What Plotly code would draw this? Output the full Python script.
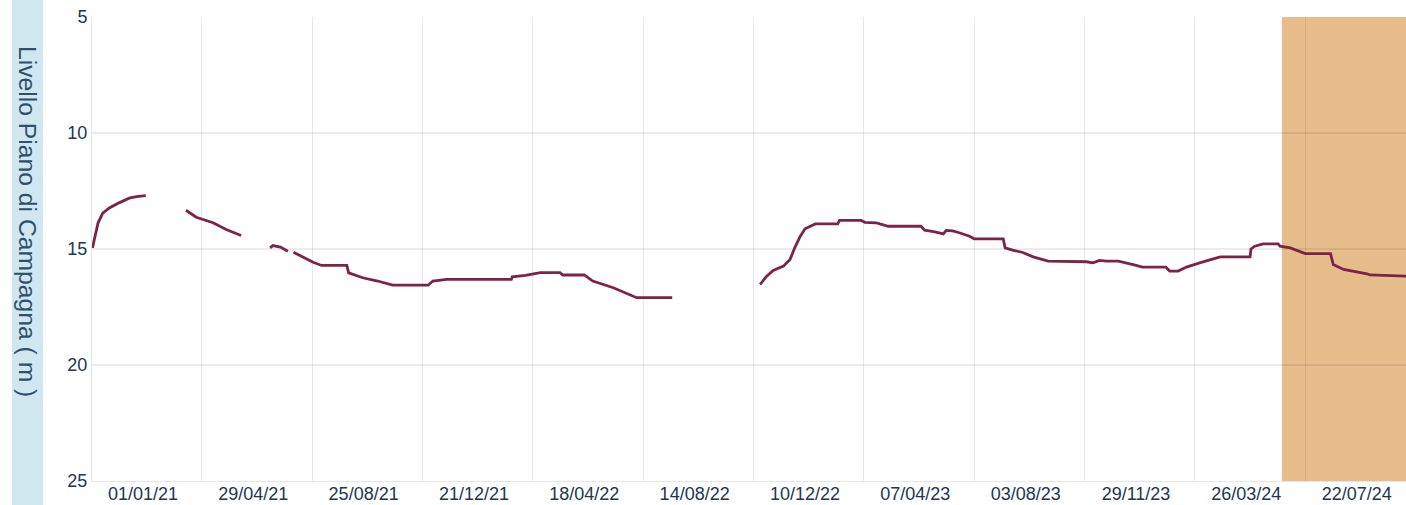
import plotly.graph_objects as go

# ---- data ----
dates = [
    "2020-11-08", "2020-11-11", "2020-11-14", "2020-11-19", "2020-11-26", "2020-12-07",
    "2020-12-18", "2020-12-27", "2021-01-04", None,
    "2021-02-16", "2021-02-27", "2021-03-17", "2021-03-31", "2021-04-16", None,
    "2021-05-17", "2021-05-20", "2021-05-28", "2021-06-05", None,
    "2021-06-11", "2021-07-02", "2021-07-11", "2021-08-07", "2021-08-09", "2021-08-24",
    "2021-09-09", "2021-09-25", "2021-11-02", "2021-11-07", "2021-11-22", "2022-01-30",
    "2022-01-31", "2022-02-14", "2022-03-02", "2022-03-23", "2022-03-26", "2022-04-18",
    "2022-04-27", "2022-05-19", "2022-06-13", "2022-07-21", None,
    "2022-10-23", "2022-10-30", "2022-11-06", "2022-11-17", "2022-11-24", "2022-11-29",
    "2022-12-05", "2022-12-10", "2022-12-21", "2023-01-14", "2023-01-16", "2023-02-08",
    "2023-02-12", "2023-02-24", "2023-02-28", "2023-03-09", "2023-04-13", "2023-04-17",
    "2023-04-28", "2023-05-07", "2023-05-10", "2023-05-17", "2023-05-24", "2023-06-04",
    "2023-06-09", "2023-07-10", "2023-07-12", "2023-07-20", "2023-07-31", "2023-08-11",
    "2023-08-27", "2023-09-16", "2023-10-07", "2023-10-14", "2023-10-21", "2023-10-28",
    "2023-11-10", "2023-11-26", "2023-12-06", "2023-12-31", "2024-01-04", "2024-01-13",
    "2024-01-22", "2024-02-05", "2024-02-19", "2024-02-27", "2024-03-30", "2024-03-31",
    "2024-04-04", "2024-04-13", "2024-04-29", "2024-05-01", "2024-05-12", "2024-05-22",
    "2024-05-28", "2024-06-24", "2024-06-27", "2024-07-08", "2024-07-22", "2024-08-02",
    "2024-08-05", "2024-09-13",
]
levels = [
    14.95, 14.40, 13.87, 13.45, 13.23, 13.00,
    12.80, 12.73, 12.70, None,
    13.33, 13.63, 13.87, 14.16, 14.42, None,
    14.95, 14.85, 14.92, 15.10, None,
    15.14, 15.57, 15.71, 15.71, 16.03, 16.24,
    16.38, 16.56, 16.56, 16.38, 16.31, 16.31,
    16.20, 16.14, 16.02, 16.02, 16.12, 16.12,
    16.38, 16.67, 17.10, 17.10, None,
    16.53, 16.17, 15.92, 15.74, 15.45, 14.95,
    14.45, 14.13, 13.92, 13.92, 13.77, 13.77,
    13.85, 13.87, 13.92, 14.02, 14.02, 14.19,
    14.26, 14.35, 14.20, 14.22, 14.30, 14.45,
    14.56, 14.56, 14.95, 15.05, 15.15, 15.34,
    15.52, 15.55, 15.55, 15.60, 15.49, 15.52,
    15.52, 15.67, 15.78, 15.78, 15.95, 15.95,
    15.78, 15.60, 15.45, 15.34, 15.34, 15.00,
    14.88, 14.78, 14.78, 14.88, 14.95, 15.10,
    15.20, 15.20, 15.67, 15.88, 15.98, 16.07,
    16.12, 16.17,
]

x_tick_dates = ["2021-01-01", "2021-04-29", "2021-08-25", "2021-12-21", "2022-04-18",
                "2022-08-14", "2022-12-10", "2023-04-07", "2023-08-03", "2023-11-29",
                "2024-03-26", "2024-07-22"]
x_tick_labels = ["01/01/21", "29/04/21", "25/08/21", "21/12/21", "18/04/22", "14/08/22",
                 "10/12/22", "07/04/23", "03/08/23", "29/11/23", "26/03/24", "22/07/24"]
x_grid_dates = ["2021-03-05", "2021-07-01", "2021-10-27", "2022-02-22", "2022-06-20",
                "2022-10-16", "2023-02-11", "2023-06-09", "2023-10-05", "2024-01-31",
                "2024-05-28"]
y_ticks = [5, 10, 15, 20, 25]
x_range = ["2020-11-07 12:00", "2024-09-12 18:00"]
shaded_period = ["2024-05-03", "2024-09-30"]
y_title = "Livello Piano di Campagna ( m )"

# ---- figure ----
W, H = 1406, 505
ML, MT, MB, MR = 92, 17, 24, 0
PW, PH = W - ML - MR, H - MT - MB

tick_color = "#22364f"
FONT = "Liberation Sans, Arial, sans-serif"
fig = go.Figure()
fig.add_trace(go.Scatter(
    x=dates, y=levels, mode="lines", connectgaps=False,
    line=dict(color="#7d2249", width=2.8), hoverinfo="x+y", showlegend=False,
))
# helper trace on a second x axis that only carries the vertical gridlines
fig.add_trace(go.Scatter(x=x_range, y=[None, None], xaxis="x2", yaxis="y",
                         mode="lines", showlegend=False, hoverinfo="skip"))

fig.add_shape(type="rect", xref="x", yref="paper",
              x0=shaded_period[0], x1=shaded_period[1], y0=0, y1=1,
              fillcolor="#E8BD8C", line=dict(width=0), layer="below")

# left coloured band
fig.add_shape(type="rect", xref="paper", yref="paper",
              x0=(12 - ML) / PW, x1=(43 - ML) / PW,
              y0=-(MB + 2) / PH, y1=(PH + MT + 2) / PH,
              fillcolor="#D1E7F0", line=dict(width=0), layer="below")

fig.add_annotation(text=y_title, xref="paper", yref="paper",
                   x=(28 - ML) / PW, y=(H - MB - 221) / PH,
                   textangle=90, showarrow=False,
                   font=dict(family=FONT, size=24.7, color="#2f4f6f"),
                   xanchor="center", yanchor="middle")

fig.update_layout(
    width=W, height=H,
    margin=dict(l=ML, r=MR, t=MT, b=MB, pad=0),
    paper_bgcolor="white", plot_bgcolor="white",
    font=dict(family=FONT, size=18, color=tick_color),
    xaxis=dict(type="date", range=x_range, tickvals=x_tick_dates, ticktext=x_tick_labels,
               showgrid=False, zeroline=False, showline=True, linecolor="#e6e6e6",
               linewidth=1, ticks="", ticklen=0, ticklabelstandoff=-4,
               tickfont=dict(size=18, color=tick_color),
               automargin=False, fixedrange=True),
    xaxis2=dict(type="date", range=x_range, overlaying="x", side="bottom",
                tickvals=x_grid_dates, showticklabels=False, showgrid=True,
                gridcolor="rgba(0,0,0,0.09)", gridwidth=1, zeroline=False,
                showline=False, ticks=""),
    yaxis=dict(range=[25, 5], tickvals=y_ticks, ticktext=[str(v) for v in y_ticks],
               showgrid=True, gridcolor="rgba(0,0,0,0.075)", gridwidth=2, zeroline=False,
               showline=True, linecolor="#e6e6e6", linewidth=1, ticks="", ticklen=0,
               tickfont=dict(size=18, color=tick_color), automargin=False, fixedrange=True),
)

fig.write_html("out.html", config={"displayModeBar": False},
               post_script="document.body.style.margin='0';document.body.style.overflow='hidden';")
